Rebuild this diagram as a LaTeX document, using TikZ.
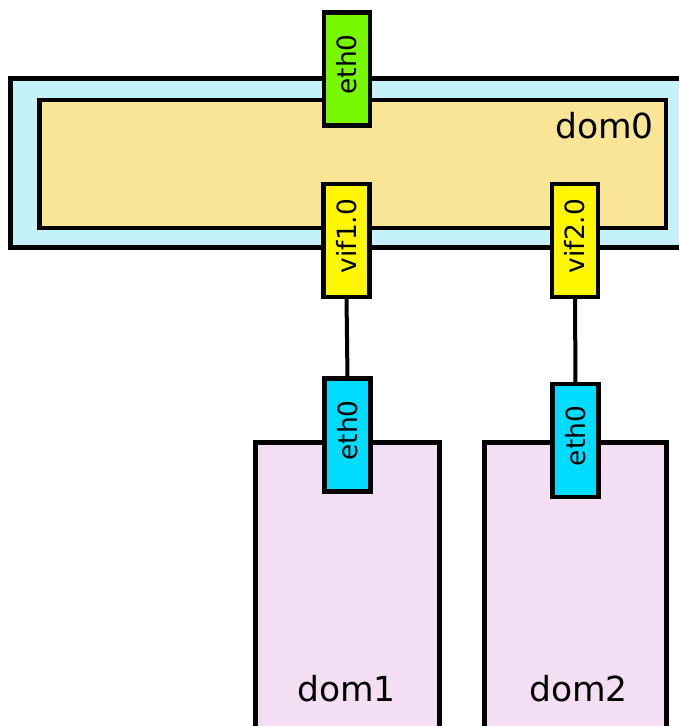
\documentclass[tikz,border=0pt]{standalone}
\usepackage{fontspec}
\setmainfont{DejaVu Sans}
\definecolor{hostblue}{HTML}{C5F1F9}
\definecolor{domzero}{HTML}{F8E595}
\definecolor{nicgreen}{HTML}{77F700}
\definecolor{vifyellow}{HTML}{FFF700}
\definecolor{niccyan}{HTML}{00DCFF}
\definecolor{guestpink}{HTML}{F4DEF4}
\tikzset{
  box/.style={draw=black, line width=4.8pt, inner sep=0pt, outer sep=0pt, anchor=north west},
  iface/.style={draw=black, line width=4.8pt, rotate=90, inner sep=0pt, outer sep=0pt,
    minimum width=113pt, minimum height=46pt,
    font=\fontsize{26.5}{30}\selectfont, execute at begin node={\hspace{9pt}}},
  domlabel/.style={font=\fontsize{34.5}{36}\selectfont, inner sep=0pt},
  wire/.style={draw=black, line width=4pt}
}
\begin{document}
\begin{tikzpicture}[x=1pt, y=-1pt]
\useasboundingbox (0,0) rectangle (679,726);
\clip (0,0) rectangle (679,726);
% host and dom0
\node[box, fill=hostblue, minimum width=700pt, minimum height=169pt] (host) at (10.5,78.5) {};
\node[box, fill=domzero, minimum width=626.5pt, minimum height=128pt] (dom0) at (39.5,100) {};
\node[domlabel, anchor=base east] (dom0lbl) at (654,138) {dom0};
% guests
\node[box, fill=guestpink, minimum width=184pt, minimum height=320pt] (dom1) at (255.5,442.5) {};
\node[box, fill=guestpink, minimum width=182pt, minimum height=320pt] (dom2) at (484.5,442.5) {};
\node[domlabel, anchor=base] (dom1lbl) at (346.5,701) {dom1};
\node[domlabel, anchor=base] (dom2lbl) at (578.5,701) {dom2};
% interfaces
\node[iface, fill=nicgreen] (peth) at (347,69) {eth0};
\node[iface, fill=vifyellow] (vif1) at (346.5,240.5) {vif1.0};
\node[iface, fill=vifyellow] (vif2) at (575,240.5) {vif2.0};
\node[iface, fill=niccyan] (eth1) at (347.5,435) {eth0};
\node[iface, fill=niccyan] (eth2) at (575.5,440.5) {eth0};
% wires
\draw[wire] (vif1.west) -- (eth1.east);
\draw[wire] (vif2.west) -- (eth2.east);
\end{tikzpicture}
\end{document}
